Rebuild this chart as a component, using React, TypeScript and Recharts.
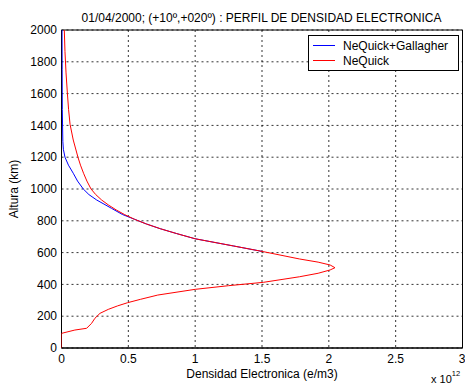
import React from 'react';
import { ScatterChart, Scatter, XAxis, YAxis, CartesianGrid, ReferenceArea } from 'recharts';

const xTicks = [0, 0.5, 1, 1.5, 2, 2.5, 3];
const yTicks = [0, 200, 400, 600, 800, 1000, 1200, 1400, 1600, 1800, 2000];

// NeQuick (red): density (x 10^12 e/m3) vs altitude (km)
const neqAlt = [0, 92, 113, 124, 155, 187, 218, 243, 265, 285, 306, 333, 369, 392, 413, 448, 470, 491, 505, 522, 540, 560, 606, 642, 687, 720, 750, 780, 810, 840, 868, 900, 931, 965, 1000, 1050, 1099, 1150, 1200, 1308, 1407, 1500, 1602, 1730, 1864, 2000];
const neqDens = [0, 0, 0.1, 0.188, 0.225, 0.25, 0.288, 0.35, 0.42, 0.495, 0.59, 0.72, 1.0, 1.25, 1.51, 1.78, 1.92, 2.01, 2.046, 2.01, 1.92, 1.78, 1.51, 1.285, 1.0, 0.86, 0.74, 0.635, 0.545, 0.47, 0.41, 0.35, 0.3, 0.256, 0.221, 0.19, 0.165, 0.142, 0.123, 0.088, 0.064, 0.053, 0.044, 0.034, 0.026, 0.021];

// NeQuick+Gallagher (blue)
const galAlt = [606, 642, 687, 720, 750, 780, 810, 840, 878, 931, 965, 1000, 1050, 1099, 1150, 1200, 1250, 1300, 1500, 1750, 2000];
const galDens = [1.51, 1.285, 1.0, 0.86, 0.74, 0.635, 0.545, 0.455, 0.375, 0.263, 0.205, 0.163, 0.12, 0.088, 0.052, 0.026, 0.014, 0.01, 0.006, 0.005, 0.004];

const redPts = neqAlt.map((a, i) => ({ x: neqDens[i], y: a }));
const bluePts = galAlt.map((a, i) => ({ x: galDens[i], y: a }));

const FONT = '"Liberation Sans", Arial, sans-serif';
const noShape = () => <g />;

export default function App() {
  return (
    <div style={{ position: 'absolute', left: 0, top: 0, width: 465, height: 385, background: '#fff' }}>
      <ScatterChart width={465} height={385} margin={{ top: 30, right: 2.5, left: 0, bottom: 0 }}>
        <CartesianGrid stroke="#000" strokeDasharray="2 3" strokeOpacity={0.8} />
        <XAxis
          type="number"
          dataKey="x"
          domain={[0, 3]}
          ticks={xTicks}
          height={37}
          tickLine={false}
          tickSize={6}
          tickMargin={0}
          axisLine={{ stroke: '#000' }}
          tick={{ fill: '#000', fontSize: 12, fontFamily: FONT }}
          allowDataOverflow
        />
        <YAxis
          type="number"
          dataKey="y"
          domain={[0, 2000]}
          ticks={yTicks}
          width={61.5}
          tickLine={false}
          tickSize={4}
          tickMargin={0.5}
          axisLine={{ stroke: '#000' }}
          tick={{ fill: '#000', fontSize: 12, fontFamily: FONT }}
          allowDataOverflow
        />
        <ReferenceArea x1={0} x2={3} y1={0} y2={2000} fill="none" stroke="#000" strokeWidth={1} ifOverflow="visible" />
        <Scatter data={bluePts} line={{ stroke: '#0000ff', strokeWidth: 1 }} lineType="joint" shape={noShape} isAnimationActive={false} />
        <Scatter data={redPts} line={{ stroke: '#ff0000', strokeWidth: 1 }} lineType="joint" shape={noShape} isAnimationActive={false} />
      </ScatterChart>
      <svg width={465} height={385} style={{ position: 'absolute', left: 0, top: 0, pointerEvents: 'none' }} fontFamily={FONT}>
        <text x={261.5} y={21.5} textAnchor="middle" fontSize={12} fill="#000">01/04/2000; (+10º,+020º) : PERFIL DE DENSIDAD ELECTRONICA</text>
        <text x={262} y={378} textAnchor="middle" fontSize={12} fill="#000">Densidad Electronica (e/m3)</text>
        <text transform="translate(18,189) rotate(-90)" textAnchor="middle" fontSize={12} fill="#000">Altura (km)</text>
        <text x={431} y={383} fontSize={11} fill="#000">x 10<tspan fontSize={7.5} dy={-7}>12</tspan></text>
        <rect x={308.5} y={35.5} width={150} height={35} fill="#fff" stroke="#000" />
        <line x1={313} x2={335} y1={45.5} y2={45.5} stroke="#0000ff" />
        <line x1={313} x2={335} y1={60.5} y2={60.5} stroke="#ff0000" />
        <text x={343} y={50} fontSize={12} fill="#000">NeQuick+Gallagher</text>
        <text x={343} y={65} fontSize={12} fill="#000">NeQuick</text>
      </svg>
    </div>
  );
}
